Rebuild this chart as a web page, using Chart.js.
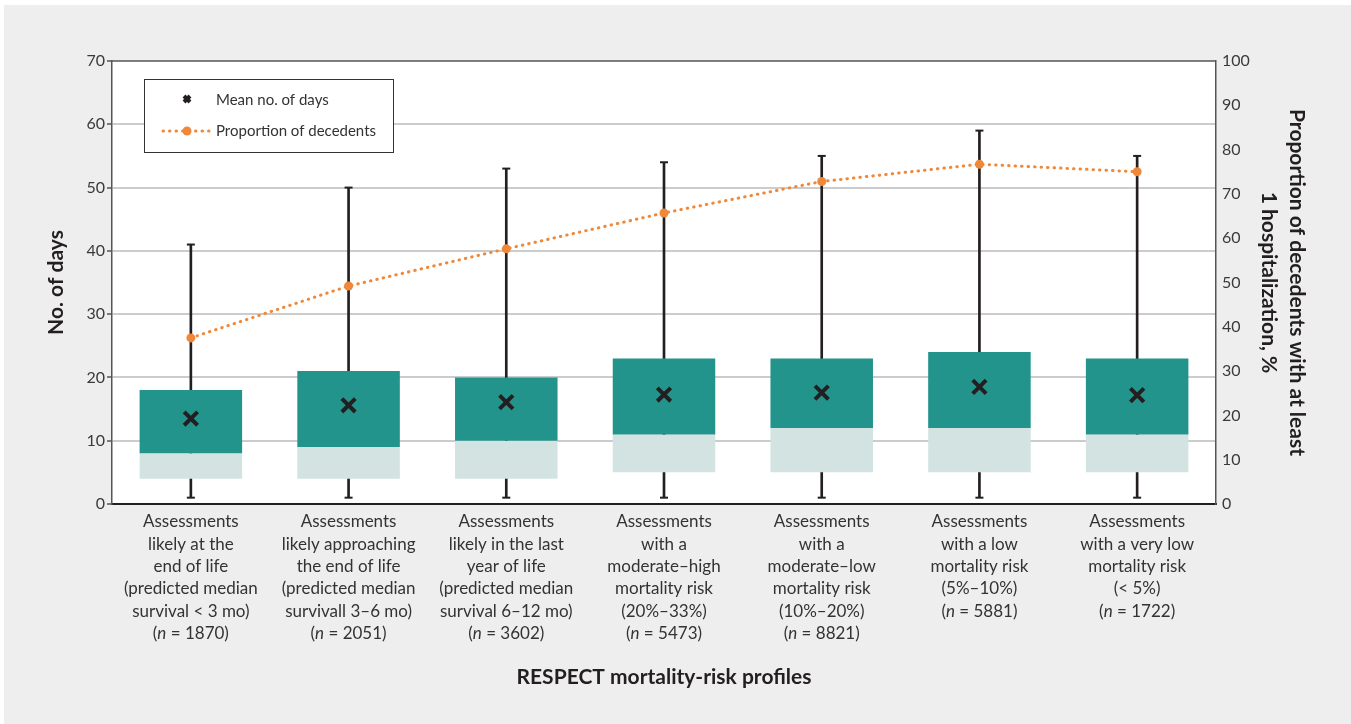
<!DOCTYPE html>
<html>
<head>
<meta charset="utf-8">
<script src="https://cdn.jsdelivr.net/npm/chart.js@4.4.0/dist/chart.umd.min.js"></script>
<style>
  html, body { margin: 0; padding: 0; background: #ffffff; }
  #wrap { position: absolute; left: 4px; top: 5px; width: 1347px; height: 719px; background: #eeeeee; }
</style>
</head>
<body>
<div id="wrap"><canvas id="chart"></canvas></div>
<script>
// Risk-profile categories (one entry per line of the axis label)
const categories = [
  ['Assessments', 'likely at the', 'end of life', '(predicted median', 'survival < 3 mo)'],
  ['Assessments', 'likely approaching', 'the end of life', '(predicted median', 'survivall 3\u20136 mo)'],
  ['Assessments', 'likely in the last', 'year of life', '(predicted median', 'survival 6\u201312 mo)'],
  ['Assessments', 'with a', 'moderate\u2013high', 'mortality risk', '(20%\u201333%)'],
  ['Assessments', 'with a', 'moderate\u2013low', 'mortality risk', '(10%\u201320%)'],
  ['Assessments', 'with a low', 'mortality risk', '(5%\u201310%)'],
  ['Assessments', 'with a very low', 'mortality risk', '(< 5%)']
];
const sampleSizes = [1870, 2051, 3602, 5473, 8821, 5881, 1722];

// Days in hospital: box-plot summaries
const minDays    = [1, 1, 1, 1, 1, 1, 1];
const q1Days     = [4, 4, 4, 5, 5, 5, 5];
const medianDays = [8, 9, 10, 11, 12, 12, 11];
const q3Days     = [18, 21, 20, 23, 23, 24, 23];
const maxDays    = [41, 50, 53, 54, 55, 59, 55];
const meanDays   = [13.5, 15.6, 16.1, 17.3, 17.6, 18.5, 17.2];

// Proportion of decedents with at least 1 hospitalization, %
const proportionPct = [37.5, 49.2, 57.6, 65.7, 72.8, 76.7, 75.0];

const FONT = 'Lato, "Source Sans Pro", "Noto Sans", sans-serif';
const DARK = '#231f20';
const TEAL = '#23948c';
const LIGHT = '#d2e3e1';
const ORANGE = '#f0883a';

const frameAndLabels = {
  id: 'frameAndLabels',
  beforeDraw(chart) {
    const { ctx, chartArea: a } = chart;
    ctx.save();
    ctx.fillStyle = '#ffffff';
    ctx.fillRect(a.left, a.top, a.right - a.left, a.bottom - a.top);
    ctx.restore();
  },
  afterDraw(chart) {
    const { ctx, chartArea: a } = chart;
    const xs = chart.scales.x;
    ctx.save();
    // top edge of plot frame
    ctx.strokeStyle = '#555555';
    ctx.lineWidth = 1.5;
    ctx.beginPath();
    ctx.moveTo(a.left, a.top);
    ctx.lineTo(a.right, a.top);
    ctx.stroke();

    // category labels with italic "n"
    ctx.fillStyle = '#333333';
    ctx.textBaseline = 'middle';
    const lh = 22.3;
    categories.forEach((lines, i) => {
      const x = xs.getPixelForValue(i);
      let y = 517;
      ctx.font = '17px ' + FONT;
      ctx.textAlign = 'center';
      lines.forEach(t => { ctx.fillText(t, x, y); y += lh; });
      const parts = [
        ['(', '17px ' + FONT],
        ['n', 'italic 17px ' + FONT],
        [' = ' + sampleSizes[i] + ')', '17px ' + FONT]
      ];
      let total = 0;
      parts.forEach(p => { ctx.font = p[1]; total += ctx.measureText(p[0]).width; });
      let px = x - total / 2;
      ctx.textAlign = 'left';
      parts.forEach(p => { ctx.font = p[1]; ctx.fillText(p[0], px, y); px += ctx.measureText(p[0]).width; });
    });

    // legend
    const lx = 140, ly = 74, lw = 249, lhgt = 73;
    ctx.fillStyle = '#ffffff';
    ctx.fillRect(lx, ly, lw, lhgt);
    ctx.strokeStyle = '#333333';
    ctx.lineWidth = 1;
    ctx.strokeRect(lx + 0.5, ly + 0.5, lw, lhgt);

    // mean marker sample
    ctx.strokeStyle = DARK;
    ctx.lineWidth = 4;
    ctx.beginPath();
    ctx.moveTo(180, 91); ctx.lineTo(186, 97);
    ctx.moveTo(186, 91); ctx.lineTo(180, 97);
    ctx.stroke();

    // proportion line sample
    ctx.strokeStyle = ORANGE;
    ctx.lineWidth = 3;
    ctx.lineCap = 'round';
    ctx.setLineDash([0.5, 6]);
    ctx.beginPath();
    ctx.moveTo(159, 126); ctx.lineTo(207, 126);
    ctx.stroke();
    ctx.setLineDash([]);
    ctx.fillStyle = ORANGE;
    ctx.beginPath();
    ctx.arc(183, 126, 4.5, 0, Math.PI * 2);
    ctx.fill();

    ctx.fillStyle = '#333333';
    ctx.font = '15px ' + FONT;
    ctx.textAlign = 'left';
    ctx.fillText('Mean no. of days', 212, 95);
    ctx.fillText('Proportion of decedents', 212, 126);
    ctx.restore();
  }
};

new Chart(document.getElementById('chart'), {
  type: 'bar',
  data: {
    labels: categories.map(l => l.join(' ')),
    datasets: [
      {
        type: 'line', label: 'Proportion of decedents', yAxisID: 'y1',
        data: proportionPct, borderColor: ORANGE, borderWidth: 3,
        borderDash: [0.5, 6], borderCapStyle: 'round',
        pointRadius: 4.5, pointBackgroundColor: ORANGE, pointBorderWidth: 0,
        order: 1
      },
      {
        type: 'line', label: 'Mean no. of days', data: meanDays, showLine: false,
        pointStyle: 'crossRot', pointRadius: 9.5, pointBorderWidth: 4,
        pointBorderColor: DARK, pointBackgroundColor: DARK, order: 2
      },
      {
        type: 'line', label: 'Maximum', data: maxDays, showLine: false,
        pointStyle: 'line', pointRadius: 4, pointBorderWidth: 2,
        pointBorderColor: DARK, order: 3
      },
      {
        type: 'line', label: 'Minimum', data: minDays, showLine: false,
        pointStyle: 'line', pointRadius: 4, pointBorderWidth: 2,
        pointBorderColor: DARK, order: 3
      },
      {
        label: 'Median to Q3', data: medianDays.map((v, i) => [v, q3Days[i]]),
        backgroundColor: TEAL, barPercentage: 0.65, categoryPercentage: 1,
        grouped: false, order: 4
      },
      {
        label: 'Q1 to median', data: q1Days.map((v, i) => [v, medianDays[i]]),
        backgroundColor: LIGHT, barPercentage: 0.65, categoryPercentage: 1,
        grouped: false, order: 4
      },
      {
        label: 'Range', data: minDays.map((v, i) => [v, maxDays[i]]),
        backgroundColor: DARK, barThickness: 2, grouped: false, order: 5
      }
    ]
  },
  options: {
    responsive: true,
    maintainAspectRatio: false,
    animation: false,
    layout: { padding: { top: 56, left: 0, right: 0, bottom: 0 } },
    plugins: { legend: { display: false }, tooltip: { enabled: false } },
    scales: {
      x: {
        grid: { display: false },
        border: { display: true, color: DARK, width: 2 },
        ticks: { display: false },
        title: {
          display: true, text: 'RESPECT mortality-risk profiles', color: DARK,
          font: { family: FONT, size: 21, weight: 'bold' },
          padding: { top: 0, bottom: 34 }
        },
        afterFit(s) { s.height = 220; }
      },
      y: {
        position: 'left', min: 0, max: 70,
        ticks: { stepSize: 10, color: '#3a3a3a', padding: 2, font: { family: FONT, size: 16 } },
        grid: {
          color: c => (c.tick.value === 0 || c.tick.value === 70) ? 'rgba(0,0,0,0)' : '#cccccc',
          lineWidth: 2, tickLength: 5, tickColor: '#555555', tickWidth: 1.5
        },
        border: { display: true, color: '#555555', width: 1.5 },
        title: {
          display: true, text: 'No. of days', color: DARK,
          font: { family: FONT, size: 21, weight: 'bold' },
          padding: { top: 40, bottom: 0 }
        },
        afterFit(s) { s.width = 108; }
      },
      y1: {
        position: 'right', min: 0, max: 100,
        ticks: { stepSize: 10, color: '#3a3a3a', padding: 6, font: { family: FONT, size: 16 } },
        grid: { drawOnChartArea: false, drawTicks: false },
        border: { display: true, color: '#555555', width: 1.5 },
        title: {
          display: true,
          text: ['Proportion of decedents with at least', '1 hospitalization, %'],
          color: DARK,
          font: { family: FONT, size: 21, weight: 'bold', lineHeight: 1.33 },
          padding: { top: 40, bottom: 0 }
        },
        afterFit(s) { s.width = 135; }
      }
    }
  },
  plugins: [frameAndLabels]
});
</script>
</body>
</html>
